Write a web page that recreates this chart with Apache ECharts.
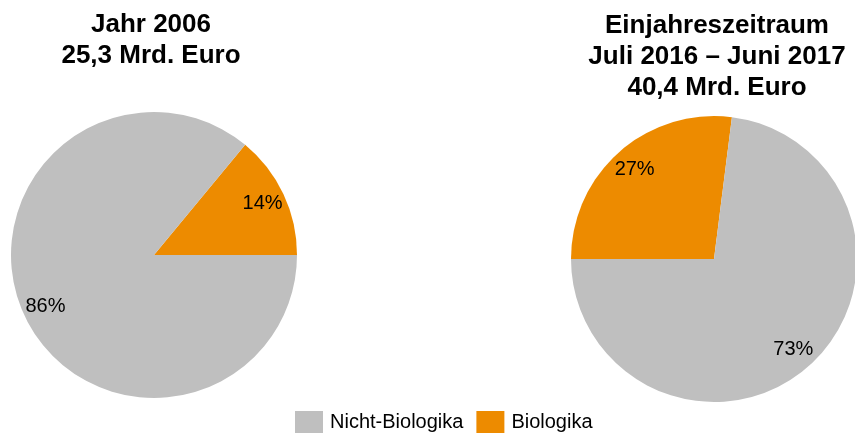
<!DOCTYPE html>
<html>
<head>
<meta charset="utf-8">
<script src="https://cdn.jsdelivr.net/npm/echarts@6/dist/echarts.min.js"></script>
<style>
html,body{margin:0;padding:0;background:#fff;}
#chart{width:855px;height:434px;}
</style>
</head>
<body>
<div id="chart"></div>
<script>
const categories = ['Nicht-Biologika', 'Biologika'];
const share2006 = [86, 14];
const share2017 = [73, 27];
const titleLeft = 'Jahr 2006\n25,3 Mrd. Euro';
const titleRight = 'Einjahreszeitraum\nJuli 2016 – Juni 2017\n40,4 Mrd. Euro';
const colors = { 'Nicht-Biologika': '#BFBFBF', 'Biologika': '#ED8B00' };

const FONT = 'Liberation Sans, Arial, sans-serif';

function pieData(values, transparent) {
  // Biologika first for slice ordering
  const order = [1, 0];
  return order.map(i => ({
    name: categories[i],
    value: values[i],
    itemStyle: { color: transparent ? 'rgba(0,0,0,0)' : colors[categories[i]] }
  }));
}

function pieSeries(values, center, startAngle, clockwise) {
  return [
    {
      type: 'pie',
      center: center,
      radius: [0, 143],
      startAngle: startAngle,
      clockwise: clockwise,
      animation: false,
      label: { show: false },
      labelLine: { show: false },
      emphasis: { disabled: true },
      data: pieData(values, false)
    },
    {
      type: 'pie',
      center: center,
      radius: [91, 143],
      startAngle: startAngle,
      clockwise: clockwise,
      animation: false,
      silent: true,
      legendHoverLink: false,
      label: {
        show: true,
        position: 'inside',
        formatter: '{c}%',
        color: '#000',
        fontSize: 20,
        fontFamily: FONT
      },
      labelLine: { show: false },
      emphasis: { disabled: true },
      data: pieData(values, true)
    }
  ];
}

const chart = echarts.init(document.getElementById('chart'), null, { renderer: 'canvas' });
chart.setOption({
  backgroundColor: '#fff',
  animation: false,
  title: [
    {
      text: titleLeft,
      left: 151,
      top: 9,
      padding: 0,
      textAlign: 'center',
      textStyle: { fontFamily: FONT, fontWeight: 'bold', fontSize: 26, lineHeight: 31, color: '#000' }
    },
    {
      text: titleRight,
      left: 717,
      top: 10,
      padding: 0,
      textAlign: 'center',
      textStyle: { fontFamily: FONT, fontWeight: 'bold', fontSize: 26, lineHeight: 31, color: '#000' }
    }
  ],
  legend: {
    data: categories,
    left: 295,
    top: 411,
    padding: 0,
    itemWidth: 28,
    itemHeight: 22,
    itemGap: 13,
    icon: 'rect',
    selectedMode: false,
    textStyle: { fontFamily: FONT, fontSize: 20, color: '#000', padding: [0, 0, 0, 2] }
  },
  series: [
    ...pieSeries(share2006, [154, 255], 0, false),
    ...pieSeries(share2017, [714, 259], 180, true)
  ]
});
</script>
</body>
</html>
